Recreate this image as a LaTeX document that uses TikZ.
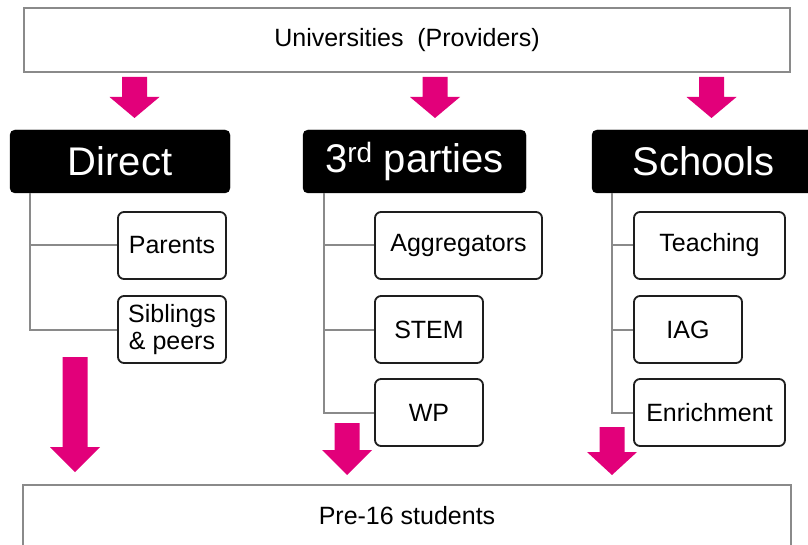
\documentclass[tikz,border=0pt]{standalone}
\usepackage{fontspec}
\setmainfont{Liberation Sans}
\definecolor{brandpink}{HTML}{E2007A}
\definecolor{linegray}{HTML}{8A8A8A}
\definecolor{boxline}{HTML}{1E1E1E}
\tikzset{
  outerbox/.style={draw=linegray, line width=1.4pt, fill=white, inner sep=0pt,
    font=\fontsize{25}{28}\selectfont},
  headbox/.style={fill=black, draw=black, rounded corners=5pt, inner sep=0pt,
    text=white, minimum height=63pt, font=\fontsize{40}{44}\selectfont},
  itembox/.style={draw=boxline, line width=1.8pt, rounded corners=6pt, fill=white,
    inner sep=0pt, minimum height=67pt, align=center,
    font=\fontsize{25}{28}\selectfont},
  treeline/.style={draw=linegray, line width=2pt},
  pics/downarrow/.style args={#1/#2}{code={
    \fill[brandpink] (-12.5,0) -- (12.5,0) -- (12.5,#2) -- (25,#2) -- (0,#1)
      -- (-25,#2) -- (-12.5,#2) -- cycle;
  }}
}
\begin{document}
\begin{tikzpicture}[x=1pt, y=-1pt]
  \useasboundingbox (0,0) rectangle (808,545);
  \clip (0,0) rectangle (808,545);
  \fill[white] (0,0) rectangle (808,545);

  % providers and audience
  \node[outerbox, minimum width=766pt, minimum height=64pt] (uni) at (407,40)
    {Universities\ \ (Providers)};
  \node[outerbox, minimum width=768pt, minimum height=62pt] (pre) at (407,516)
    {Pre-16 students};

  % the three channels
  \node[headbox, minimum width=220pt] (direct) at (120,161.5) {Direct};
  \node[headbox, minimum width=223pt] (third) at (414.5,161.5) {3\textsuperscript{rd} parties};
  \node[headbox, minimum width=223pt] (schools) at (703.5,161.5) {Schools};

  % channel members
  \node[itembox, minimum width=108pt] (parents) at (172,245.5) {Parents};
  \node[itembox, minimum width=108pt] (siblings) at (172,329.5) {Siblings\\[-1pt]\& peers};
  \node[itembox, minimum width=167pt] (aggr) at (458.5,245.5) {Aggregators};
  \node[itembox, minimum width=108pt] (stem) at (429,329.5) {STEM};
  \node[itembox, minimum width=108pt] (wp) at (429,412.5) {WP};
  \node[itembox, minimum width=151pt] (teach) at (709.5,245.5) {Teaching};
  \node[itembox, minimum width=108pt] (iag) at (688,329.5) {IAG};
  \node[itembox, minimum width=151pt] (enrich) at (709.5,412.5) {Enrichment};

  % tree connectors
  \coordinate (dtrunk) at (30,193);
  \coordinate (ttrunk) at (324,193);
  \coordinate (strunk) at (612,193);
  \draw[treeline] (dtrunk) |- (siblings.west);
  \draw[treeline] (dtrunk |- parents.west) -- (parents.west);
  \draw[treeline] (ttrunk) |- (wp.west);
  \draw[treeline] (ttrunk |- aggr.west) -- (aggr.west);
  \draw[treeline] (ttrunk |- stem.west) -- (stem.west);
  \draw[treeline] (strunk) |- (enrich.west);
  \draw[treeline] (strunk |- teach.west) -- (teach.west);
  \draw[treeline] (strunk |- iag.west) -- (iag.west);

  % flow arrows
  \pic at (134.5,77) {downarrow={41/20}};
  \pic at (435,77) {downarrow={41/20}};
  \pic at (711.5,77) {downarrow={41/20}};
  \pic at (75,357) {downarrow={115/90}};
  \pic at (347,423) {downarrow={52/27}};
  \pic at (612,427) {downarrow={48/25}};
\end{tikzpicture}
\end{document}
